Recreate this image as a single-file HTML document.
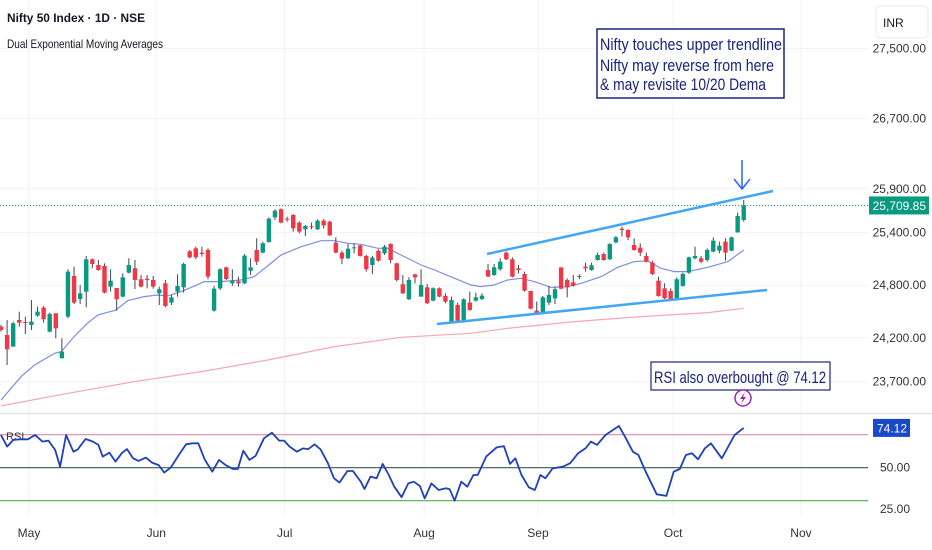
<!DOCTYPE html>
<html><head><meta charset="utf-8"><style>
html,body{margin:0;padding:0;background:#fff;}
svg{display:block;font-family:"Liberation Sans",sans-serif;}
</style></head><body>
<svg id="c" width="932" height="550" viewBox="0 0 932 550">
<g id="grid"></g>
<g id="dema"></g>
<g id="candles"></g>
<g id="rsi"></g>
<g id="axes"></g>
<text x="7" y="22" font-size="12" font-weight="bold" fill="#131722" textLength="138" lengthAdjust="spacingAndGlyphs">Nifty 50 Index · 1D · NSE</text>
<text x="7" y="48" font-size="12" fill="#131722" textLength="156" lengthAdjust="spacingAndGlyphs">Dual Exponential Moving Averages</text>
<rect x="876" y="6" width="52" height="32" rx="4" fill="#fff" stroke="#e8e8ec"/>
<text x="883" y="27" font-size="12" fill="#131722">INR</text>
<line x1="487" y1="254" x2="773" y2="191" stroke="#42a5f5" stroke-width="2.5"/>
<line x1="437" y1="324" x2="767" y2="290" stroke="#42a5f5" stroke-width="2.5"/>
<g stroke="#2962ff" stroke-width="1.5" fill="none"><line x1="742" y1="160" x2="742" y2="189"/><polyline points="734,179 742,189 750,179"/></g>
<g>
<rect x="597" y="29" width="187" height="69" fill="#fff" stroke="#1a237e" stroke-width="1.5"/>
<text font-size="17" fill="#1a237e" lengthAdjust="spacingAndGlyphs" x="600" y="50" textLength="182">Nifty touches upper trendline</text>
<text font-size="17" fill="#1a237e" lengthAdjust="spacingAndGlyphs" x="600" y="71" textLength="174">Nifty may reverse from here</text>
<text font-size="17" fill="#1a237e" lengthAdjust="spacingAndGlyphs" x="600" y="90" textLength="166">&amp; may revisite 10/20 Dema</text>
</g>
<g>
<rect x="651" y="362" width="179" height="28" fill="#fff" stroke="#1a237e" stroke-width="1.2"/>
<text x="654" y="383" font-size="17" fill="#1a237e" textLength="172" lengthAdjust="spacingAndGlyphs">RSI also overbought @ 74.12</text>
</g>
<g><circle cx="743" cy="398" r="8" fill="#fff" stroke="#9c27b0" stroke-width="1.5"/><path d="M745 392 L740 399 L743 399 L741 404 L746 397 L743 397 Z" fill="#9c27b0"/></g>
</svg>
<script>
const opens=[24328,24233,24100,24404,24381,24347,24453,24545,24271,24480,23967,24442,24906,24643,24727,25096,25031,25020,24784,24769,24670,24944,24993,24868,24875,24860,24708,24822,24602,24727,24776,25187,25221,25172,25202,24510,24765,25004,24822,24845,24822,24966,25202,25172,25293,25574,25666,25559,25601,25514,25438,25472,25438,25536,25525,25286,25172,25107,25221,25255,25134,25031,25194,25164,25270,25050,24811,24640,24925,24670,24776,24624,24765,24678,24385,24575,24385,24602,24624,24643,24974,24917,24982,25172,25096,24993,24928,24735,24510,24480,24602,24651,25004,24860,24833,24898,25012,24974,25088,25156,25096,25289,25445,25430,25259,25229,25134,25058,24852,24765,24735,24651,24792,24944,25107,25107,25088,25183,25194,25297,25194,25403,25544];
const highs=[24347,24404,24385,24499,24442,24632,24556,24564,24488,24480,24195,24982,25012,24803,25134,25107,25088,25050,24982,24769,24936,25107,25088,24917,24917,24906,24784,24860,24689,24925,25058,25202,25240,25240,25221,24792,24993,25012,24982,24898,25156,25107,25335,25297,25574,25666,25677,25582,25612,25529,25487,25514,25552,25555,25536,25346,25194,25270,25278,25259,25145,25134,25210,25259,25278,25058,24917,24890,24928,24982,24814,24776,24776,24708,24670,24602,24651,24727,24716,24708,25042,25042,25107,25183,25118,25031,24955,24735,24613,24678,24792,24784,25004,24879,24917,24925,25058,25058,25172,25172,25278,25362,25468,25438,25335,25278,25172,25080,24898,24822,24765,24890,24944,25126,25240,25134,25221,25346,25297,25335,25354,25628,25772];
const lows=[24271,23891,24100,24328,24244,24290,24442,24374,24263,24195,23967,24423,24586,24586,24548,24993,24966,24708,24727,24510,24662,24936,24757,24776,24765,24761,24575,24548,24575,24670,24716,25107,25099,25126,24868,24499,24746,24860,24792,24784,24814,24917,25031,25164,25286,25544,25506,25525,25411,25392,25362,25438,25430,25449,25362,25164,25042,25099,25164,25126,24955,24928,25069,25145,25050,24841,24700,24632,24822,24670,24586,24617,24662,24594,24374,24374,24374,24510,24613,24632,24898,24906,24966,25088,24890,24936,24727,24526,24461,24472,24575,24586,24754,24662,24784,24871,24955,24966,25080,25080,25088,25278,25354,25316,25194,25134,25058,24917,24670,24643,24632,24643,24784,24928,25096,25050,25069,25175,25164,25080,25187,25400,25525];
const closes=[24290,24070,24366,24374,24374,24385,24499,24412,24472,24309,24043,24955,24602,24708,25096,25042,24974,24716,24852,24640,24890,25031,24860,24784,24860,24784,24754,24564,24662,24792,25042,25118,25118,25156,24898,24761,24982,24871,24852,24822,25137,25004,25069,25278,25559,25650,25514,25552,25449,25411,25476,25464,25536,25483,25369,25172,25103,25217,25232,25134,24982,25115,25080,25240,25088,24860,24708,24860,24890,24803,24594,24765,24670,24613,24632,24396,24640,24518,24662,24681,24898,25004,25069,25096,24898,24974,24738,24533,24480,24662,24689,24754,24761,24776,24795,24906,24993,25027,25145,25088,25270,25346,25430,25346,25202,25172,25069,24928,24678,24651,24643,24868,24928,25118,25134,25069,25202,25308,25251,25172,25346,25590,25710];
const demaFastBars=[0,3.3,5.5,8.8,9.9,12,14.2,15.9,18.9,20.8,23.5,25.7,27.4,29.6,31.8,33.4,36.1,39.4,41.6,43.8,46,49.3,52.6,54.8,57,59.1,61.9,63.5,65.7,69,71.2,74.5,77.2,78.8,81,83.2,85.4,87.6,90.3,93.1,95.3,98.6,101.3,104,106.2,108.4,110.6,112.8,116.1,119.4,122];
const demaFastVals=[23492,23758,23891,24024,24043,24214,24366,24461,24518,24624,24670,24689,24678,24727,24792,24841,24841,24860,24898,25020,25145,25240,25308,25308,25278,25267,25221,25221,25145,25031,24974,24879,24803,24784,24803,24860,24879,24841,24776,24784,24822,24898,25004,25069,25077,24993,24955,24955,25004,25069,25202];
const demaSlowBars=[0,11,21.9,32.9,43.8,54.8,65.7,77.2,83.2,94.2,105.2,116.1,122];
const demaSlowVals=[23424,23568,23701,23815,23948,24100,24206,24252,24309,24385,24442,24488,24537];
const rsiBars=[0,1,2,3,4.4,5.6,6.8,7.8,8.9,9.7,10.7,11.9,12.6,13.9,15.1,16,16.7,17.8,18.8,19.9,20.7,21.7,22.6,23.8,24.8,25.9,26.8,27.9,29.2,30.4,31.4,32.4,33.5,34.7,35.8,36.9,38.1,38.9,39.8,40.8,41.8,43.2,44.5,45.7,46.5,47.4,48.6,49.6,50.5,51.5,52.5,53.7,54.7,55.6,56.9,57.8,59.1,59.7,60.7,61.7,62.7,63.7,64.6,65.8,66.9,67.8,68.8,69.6,70.7,71.9,73.1,73.7,74.5,75.6,76.6,77.6,78.3,79.7,81.4,82.6,83.6,84.5,85.5,86.7,87.7,88.6,89.4,90.6,92.3,93.5,94.8,96,96.9,97.9,99.3,101.5,102.5,103.8,104.7,105.9,107.7,109.3,110.5,111.5,112.5,113.5,114.5,115.6,116.6,118.4,120.5,122];
const rsiVals=[69.8,62.8,66.8,67.2,67.2,69.8,65.8,66.4,60.7,50.6,69.8,59.7,61.1,67.4,65.8,63.8,56.7,59.1,53.7,59.1,61.3,55.7,54.1,56.1,53.1,51.6,47,50.2,57.7,64.2,64.8,64.8,54.7,47.6,54.7,51.6,49.2,49.2,60.3,54.7,57.1,67.8,71.2,66.4,66.4,62.8,59.7,61.7,61.3,64.2,61.1,52.7,43.6,41,48,48,41.5,37.1,44.6,43.6,52.3,45.6,38.5,32.1,40.5,41.5,38.9,31.4,40.5,36.5,37.5,36.9,30,41.5,38.5,45.6,45.6,56.7,62.3,63.1,52.3,55.7,45.6,38.1,36.5,45.6,43.6,49.6,50.6,52.7,58.7,61.7,65.8,63.8,69.8,75.3,68.8,59.7,57.7,47.6,33.9,32.9,47.6,49.2,57.7,58.7,55.1,61.7,64.8,55.7,69.8,74.12];
const priceTicks=[27500,26700,25900,25400,24800,24200,23700];
const priceTickLabels=["27,500.00","26,700.00","25,900.00","25,400.00","24,800.00","24,200.00","23,700.00"];
const rsiTicks=[50,25];
const monthLabels=["May","Jun","Jul","Aug","Sep","Oct","Nov"];
const monthBars=[4.6,25.5,46.6,69.5,88.2,110.4,131.4];
const lastPrice=25709.85, lastRsi=74.12;

const NS="http://www.w3.org/2000/svg";
const X=i=>i*6.088+1;
const Y=p=>180+(26000-p)*0.0877;
const RY=r=>467.7-(r-50)*1.65;
function mk(tag,attrs,parent){const e=document.createElementNS(NS,tag);for(const k in attrs)e.setAttribute(k,attrs[k]);parent.appendChild(e);return e;}
const grid=document.getElementById('grid'),axes=document.getElementById('axes'),cg=document.getElementById('candles'),dg=document.getElementById('dema'),rg=document.getElementById('rsi');
priceTicks.forEach((p,k)=>{
  const l=mk('line',{x1:0,x2:868,y1:Y(p),y2:Y(p),stroke:'#f0f2f5'},grid);
  
  
  const t=mk('text',{x:926,y:Y(p)+4,'text-anchor':'end','font-size':12,fill:'#333'},axes);
  t.textContent=priceTickLabels[k];
  
  
});
monthBars.forEach((b,k)=>{
  const l=mk('line',{x1:X(b),x2:X(b),y1:0,y2:515,stroke:'#f0f2f5'},grid);
  
  
  const t=mk('text',{x:X(b),y:537,'text-anchor':'middle','font-size':12,fill:'#333'},axes);
  t.textContent=monthLabels[k];
  
  
});
const sep=mk('line',{x1:0,x2:932,y1:413.5,y2:413.5,stroke:'#e0e3eb','stroke-width':1.5},grid);


const lp=mk('line',{x1:0,x2:868,y1:Y(lastPrice),y2:Y(lastPrice),stroke:'#089981','stroke-dasharray':'1 2'},grid);


function poly(bars,vals,yf){return bars.map((b,i)=>X(b).toFixed(1)+','+yf(vals[i]).toFixed(1)).join(' ');}
const df=mk('polyline',{points:poly(demaFastBars,demaFastVals,Y),fill:'none',stroke:'#7d8ee0','stroke-width':1.2},dg);


const ds=mk('polyline',{points:poly(demaSlowBars,demaSlowVals,Y),fill:'none',stroke:'#f4a7b9','stroke-width':1.2},dg);


closes.forEach((c,i)=>{
  const o=opens[i],up=c>=o,col=up?'#089981':'#f23645',x=X(i);
  const w=mk('line',{x1:x,x2:x,y1:Y(highs[i]),y2:Y(lows[i]),stroke:'#434651','stroke-width':1},cg);
  
  
  const top=Y(Math.max(o,c)),bot=Y(Math.min(o,c));
  const r=mk('rect',{x:x-2.2,y:top,width:4.4,height:Math.max(1,bot-top),fill:col},cg);
  
  
});
[[70,'#d98aac'],[50,'#3d5a4e'],[30,'#4caf50']].forEach(([v,col])=>{
  const l=mk('line',{x1:0,x2:868,y1:RY(v),y2:RY(v),stroke:col,'stroke-width':1.2},rg);
  
  
});
rsiTicks.forEach(v=>{
  const t=mk('text',{x:910,y:RY(v)+4,'text-anchor':'end','font-size':12,fill:'#333'},axes);
  t.textContent=v.toFixed(2);
  
  
});
const rt=mk('text',{x:6,y:440,'font-size':11,fill:'#333'},rg);
rt.textContent='RSI';


const rl=mk('polyline',{points:poly(rsiBars,rsiVals,RY),fill:'none',stroke:'#1e40b8','stroke-width':1.8,'stroke-linejoin':'round'},rg);


const b1=mk('rect',{x:869,y:Y(lastPrice)-9,width:60,height:18,fill:'#089981'},axes);


const b1t=mk('text',{x:926,y:Y(lastPrice)+4.5,'text-anchor':'end','font-size':12,fill:'#fff'},axes);
b1t.textContent=lastPrice.toLocaleString('en-US',{minimumFractionDigits:2});


const b2=mk('rect',{x:873,y:RY(lastRsi)-9,width:37,height:18,fill:'#1848cc'},axes);


const b2t=mk('text',{x:907,y:RY(lastRsi)+4.5,'text-anchor':'end','font-size':12,fill:'#fff'},axes);
b2t.textContent=lastRsi.toFixed(2);


</script>
</body></html>
